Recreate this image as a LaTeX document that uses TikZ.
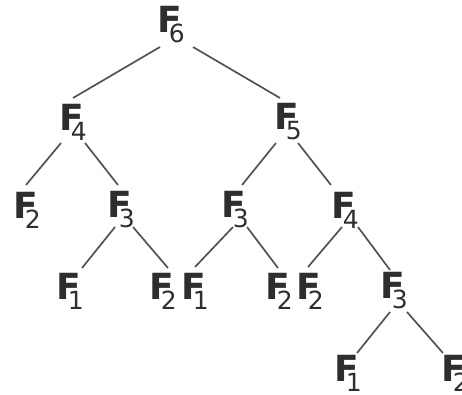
\documentclass[tikz,border=0pt]{standalone}
\usepackage{fontspec}
\setmainfont{DejaVu Sans}
\usetikzlibrary{calc}
\newcommand\fibl[1]{F\kern-0.36em\raisebox{-0.28em}{\fontsize{25}{25}\selectfont\mdseries #1}}
\tikzset{
  fib/.style={inner sep=0pt, anchor=center, text=black!82, font=\fontsize{36}{36}\selectfont\bfseries},
  edge/.style={draw=black!68, line width=1.7pt}
}
\begin{document}
\begin{tikzpicture}[x=1pt,y=-1pt]
\useasboundingbox (0,0) rectangle (462,394);
% level 0
\node[fib] (a) at (171,25) {\fibl{6}};
% level 1
\node[fib] (b) at (73,122) {\fibl{4}};
\node[fib] (c) at (288,122) {\fibl{5}};
% level 2
\node[fib] (d) at (27,210) {\fibl{2}};
\node[fib] (e) at (121,210) {\fibl{3}};
\node[fib] (f) at (235,210) {\fibl{3}};
\node[fib] (g) at (345,210) {\fibl{4}};
% level 3
\node[fib] (h) at (70,291) {\fibl{1}};
\node[fib] (i) at (163,291) {\fibl{2}};
\node[fib] (j) at (195,291) {\fibl{1}};
\node[fib] (k) at (279,291) {\fibl{2}};
\node[fib] (l) at (310,291) {\fibl{2}};
\node[fib] (m) at (394,291) {\fibl{3}};
% level 4
\node[fib] (n) at (348,373) {\fibl{1}};
\node[fib] (o) at (455,373) {\fibl{2}};
% edges
\draw[edge] ($(a)+(-11,22)$) -- ($(b)+(0,-24)$);
\draw[edge] ($(a)+(22,22)$) -- ($(c)+(-8,-24)$);
\draw[edge] ($(b)+(-12,21)$) -- ($(d)+(-1,-25)$);
\draw[edge] ($(b)+(12,21)$) -- ($(e)+(-3,-25)$);
\draw[edge] ($(c)+(-12,21)$) -- ($(f)+(7,-25)$);
\draw[edge] ($(c)+(10,21)$) -- ($(g)+(-14,-25)$);
\draw[edge] ($(e)+(-6,17)$) -- ($(h)+(12,-23)$);
\draw[edge] ($(e)+(12,17)$) -- ($(i)+(5,-23)$);
\draw[edge] ($(f)+(-2,17)$) -- ($(j)+(0,-24)$);
\draw[edge] ($(f)+(12,17)$) -- ($(k)+(-1,-23)$);
\draw[edge] ($(g)+(-3,17)$) -- ($(l)+(-2,-24)$);
\draw[edge] ($(g)+(13,17)$) -- ($(m)+(-4,-21)$);
\draw[edge] ($(m)+(-4,21)$) -- ($(n)+(9,-20)$);
\draw[edge] ($(m)+(13,21)$) -- ($(o)+(-12,-20)$);
\end{tikzpicture}
\end{document}
